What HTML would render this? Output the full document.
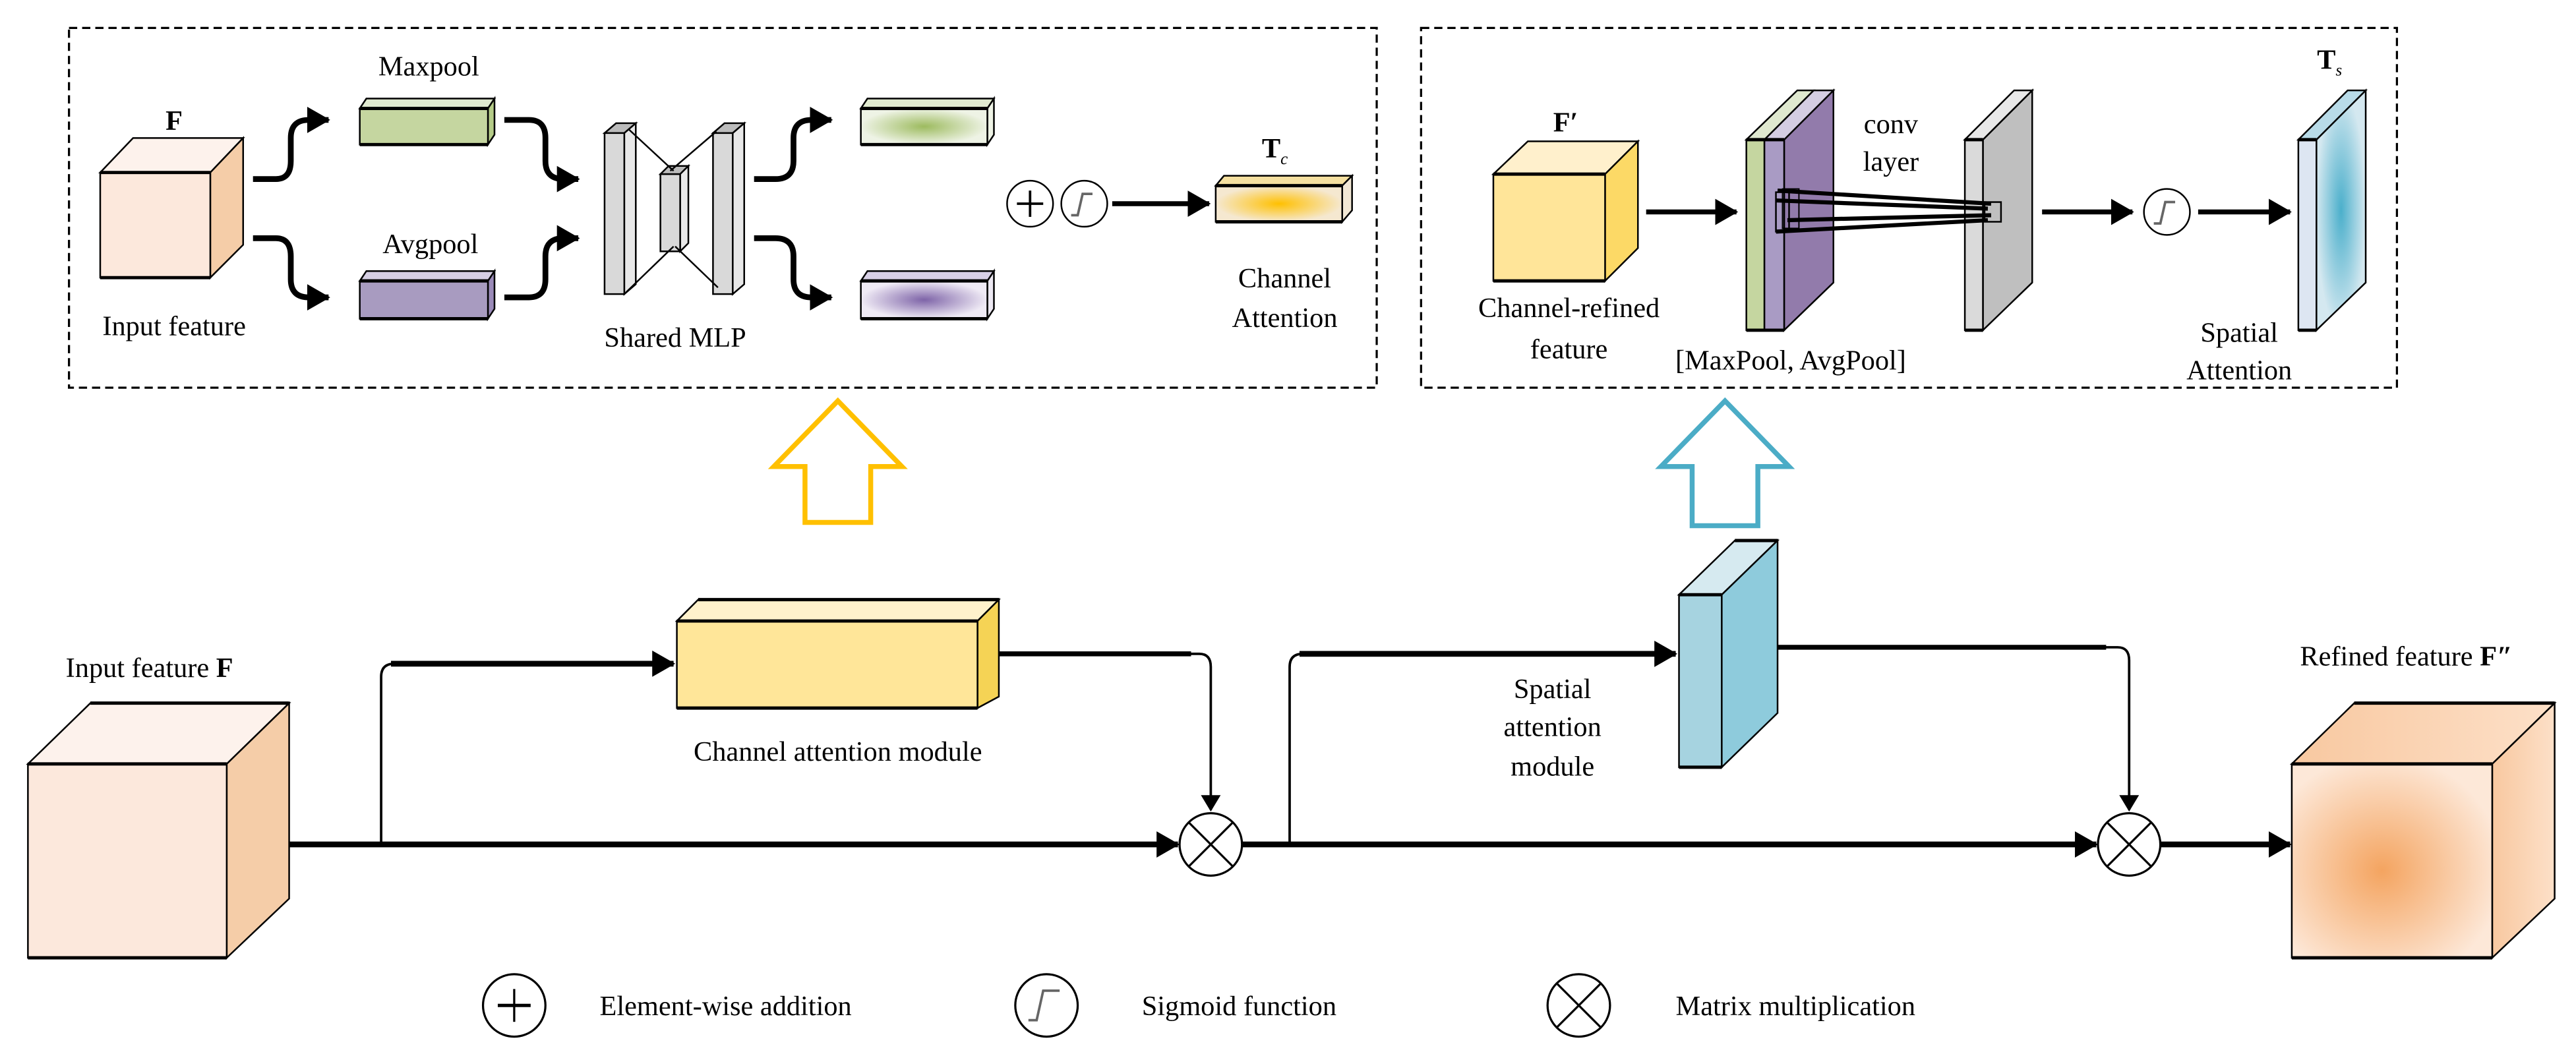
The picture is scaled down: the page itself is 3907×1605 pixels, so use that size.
<!DOCTYPE html>
<html><head><meta charset="utf-8"><style>html,body{margin:0;padding:0;background:#fff}svg{display:block}text{font-family:"Liberation Serif",serif;fill:#000}</style></head><body>
<svg width="3907" height="1605" viewBox="0 0 1568 644" preserveAspectRatio="none" xmlns="http://www.w3.org/2000/svg">
<defs>
<marker id="ah" markerUnits="userSpaceOnUse" markerWidth="14" markerHeight="16" refX="13" refY="8" orient="auto"><path d="M0,0 L14,8 L0,16 z" fill="#000"/></marker>
<marker id="ahs" markerUnits="userSpaceOnUse" markerWidth="10" markerHeight="12" refX="9" refY="6" orient="auto"><path d="M0,0 L10,6 L0,12 z" fill="#000"/></marker>
<radialGradient id="gG"><stop offset="0" stop-color="#9dbb5f"/><stop offset="1" stop-color="#eef3e5"/></radialGradient>
<radialGradient id="gP"><stop offset="0" stop-color="#7e64a8"/><stop offset="1" stop-color="#efeaf5"/></radialGradient>
<radialGradient id="gY"><stop offset="0" stop-color="#ffc000"/><stop offset="1" stop-color="#f5e8d0"/></radialGradient>
<radialGradient id="gB"><stop offset="0" stop-color="#4bafcb"/><stop offset="1" stop-color="#d4e8f0"/></radialGradient>
<radialGradient id="gO" cx="0.45" cy="0.55" r="0.6"><stop offset="0" stop-color="#f4a460"/><stop offset="1" stop-color="#fde8d8"/></radialGradient>
<linearGradient id="gOs" x1="0" x2="1"><stop offset="0" stop-color="#f8c8a0"/><stop offset="1" stop-color="#fde0c8"/></linearGradient>
</defs>

<!-- Dashed boxes -->
<rect x="42" y="17" width="796" height="219" fill="none" stroke="#000" stroke-width="1.3" stroke-dasharray="5,3"/>
<rect x="865" y="17" width="594" height="219" fill="none" stroke="#000" stroke-width="1.3" stroke-dasharray="5,3"/>

<!-- ===== Channel attention detail ===== -->
<text x="106" y="79" font-size="17" font-weight="bold" text-anchor="middle">F</text>
<polygon points="61,105 81,84 148,84 128,105" fill="#fdf2ec" stroke="#000" stroke-width="1"/>
<polygon points="128,105 148,84 148,149 128,169" fill="#f5cda8" stroke="#000" stroke-width="1"/>
<rect x="61" y="105" width="67" height="64" fill="#fce8dc" stroke="#000" stroke-width="1"/>
<line x1="61" y1="105" x2="128" y2="105" stroke="#000" stroke-width="2"/><line x1="61" y1="169" x2="128" y2="169" stroke="#000" stroke-width="2"/>
<text x="106" y="204" font-size="17" text-anchor="middle">Input feature</text>

<text x="261" y="46" font-size="17" text-anchor="middle">Maxpool</text>
<polygon points="219,66 223,60 301,60 297,66" fill="#dfe9cf" stroke="#000"/>
<polygon points="297,66 301,60 301,82 297,88" fill="#b5cc88" stroke="#000"/>
<rect x="219" y="66" width="78" height="22" fill="#c5d6a0" stroke="#000"/>
<line x1="219" y1="66" x2="297" y2="66" stroke="#000" stroke-width="2"/><line x1="219" y1="88" x2="297" y2="88" stroke="#000" stroke-width="2"/>

<text x="262" y="154" font-size="17" text-anchor="middle">Avgpool</text>
<polygon points="219,171 223,165 301,165 297,171" fill="#d6cfe3" stroke="#000"/>
<polygon points="297,171 301,165 301,188 297,194" fill="#9a8ab8" stroke="#000"/>
<rect x="219" y="171" width="78" height="23" fill="#a89bc0" stroke="#000"/>
<line x1="219" y1="171" x2="297" y2="171" stroke="#000" stroke-width="2"/><line x1="219" y1="194" x2="297" y2="194" stroke="#000" stroke-width="2"/>

<!-- curves -->
<g fill="none" stroke="#000" stroke-width="3.5">
<path d="M154,109 H168 Q177,109 177,98 V84 Q177,73 188,73 H200" marker-end="url(#ah)"/>
<path d="M154,145 H168 Q177,145 177,156 V170 Q177,181 188,181 H200" marker-end="url(#ah)"/>
<path d="M307,73 H322 Q332,73 332,84 V98 Q332,109 343,109 H352" marker-end="url(#ah)"/>
<path d="M307,181 H322 Q332,181 332,170 V156 Q332,145 343,145 H352" marker-end="url(#ah)"/>
<path d="M459,109 H472 Q483,109 483,98 V84 Q483,73 494,73 H506" marker-end="url(#ah)"/>
<path d="M459,145 H472 Q483,145 483,156 V170 Q483,181 494,181 H506" marker-end="url(#ah)"/>
</g>

<!-- MLP -->
<g stroke="#000" stroke-width="1">
<polygon points="368,81 375,75 387,75 380,81" fill="#bbb"/><polygon points="380,81 387,75 387,173 380,179" fill="#e8e8e8"/><rect x="368" y="81" width="12" height="98" fill="#d9d9d9"/>
<polygon points="434,81 441,75 453,75 446,81" fill="#bbb"/><polygon points="446,81 453,75 453,173 446,179" fill="#e8e8e8"/><rect x="434" y="81" width="12" height="98" fill="#d9d9d9"/>
<polygon points="402,106 407,101 419,101 414,106" fill="#bbb"/><polygon points="414,106 419,101 419,148 414,153" fill="#e8e8e8"/><rect x="402" y="106" width="12" height="47" fill="#d9d9d9"/>
<line x1="383" y1="79" x2="410" y2="104"/><line x1="436" y1="80" x2="408" y2="104"/>
<line x1="381" y1="178" x2="410" y2="150"/><line x1="437" y1="175" x2="411" y2="150"/>
</g>
<text x="411" y="211" font-size="17" text-anchor="middle">Shared MLP</text>

<polygon points="524,66 528,60 605,60 601,66" fill="#e0eacf" stroke="#000"/>
<polygon points="601,66 605,60 605,82 601,88" fill="#eef3e5" stroke="#000"/>
<rect x="524" y="66" width="77" height="22" fill="url(#gG)" stroke="#000"/>
<line x1="524" y1="66" x2="601" y2="66" stroke="#000" stroke-width="2"/><line x1="524" y1="88" x2="601" y2="88" stroke="#000" stroke-width="2"/>
<polygon points="524,171 528,165 605,165 601,171" fill="#d8d0e6" stroke="#000"/>
<polygon points="601,171 605,165 605,188 601,194" fill="#ece8f2" stroke="#000"/>
<rect x="524" y="171" width="77" height="23" fill="url(#gP)" stroke="#000"/>
<line x1="524" y1="171" x2="601" y2="171" stroke="#000" stroke-width="2"/><line x1="524" y1="194" x2="601" y2="194" stroke="#000" stroke-width="2"/>

<ellipse cx="627" cy="124" rx="14" ry="14" fill="#fff" stroke="#000"/>
<line x1="619" y1="124" x2="635" y2="124" stroke="#000" stroke-width="1.5"/><line x1="627" y1="116" x2="627" y2="132" stroke="#000" stroke-width="1.5"/>
<ellipse cx="660" cy="124" rx="14" ry="14" fill="#fff" stroke="#000"/>
<path d="M652,131 H656 L659,118 H665" fill="none" stroke="#666" stroke-width="1.5"/>
<line x1="677" y1="124" x2="736" y2="124" stroke="#000" stroke-width="3" marker-end="url(#ah)"/>
<text x="776" y="96" font-size="17" font-weight="bold" text-anchor="middle">T<tspan font-size="10" font-style="italic" font-weight="normal" dy="4">c</tspan></text>
<polygon points="740,113 745,107 823,107 817,113" fill="#f5e0a0" stroke="#000"/>
<polygon points="817,113 823,107 823,128 817,135" fill="#f2e8d5" stroke="#000"/>
<rect x="740" y="113" width="77" height="22" fill="url(#gY)" stroke="#000"/>
<line x1="740" y1="113" x2="817" y2="113" stroke="#000" stroke-width="2"/><line x1="740" y1="135" x2="817" y2="135" stroke="#000" stroke-width="2"/>
<text x="782" y="175" font-size="17" text-anchor="middle">Channel</text>
<text x="782" y="199" font-size="17" text-anchor="middle">Attention</text>

<!-- ===== Spatial attention detail ===== -->
<text x="953" y="80" font-size="17" font-weight="bold" text-anchor="middle">F′</text>
<polygon points="909,106 930,86 997,86 977,106" fill="#fff0cc" stroke="#000"/>
<polygon points="977,106 997,86 997,151 977,171" fill="#fcd966" stroke="#000"/>
<rect x="909" y="106" width="68" height="65" fill="#ffe599" stroke="#000"/>
<line x1="909" y1="106" x2="977" y2="106" stroke="#000" stroke-width="2"/><line x1="909" y1="171" x2="977" y2="171" stroke="#000" stroke-width="2"/>
<text x="955" y="193" font-size="17" text-anchor="middle">Channel-refined</text>
<text x="955" y="218" font-size="17" text-anchor="middle">feature</text>
<line x1="1002" y1="129" x2="1057" y2="129" stroke="#000" stroke-width="3" marker-end="url(#ah)"/>

<g stroke="#000" stroke-width="1">
<polygon points="1086,85 1116,55 1116,172 1086,201" fill="#927bab"/>
<polygon points="1063,85 1094,55 1104,55 1074,85" fill="#dfe8cf"/>
<polygon points="1074,85 1104,55 1116,55 1086,85" fill="#d4cde2"/>
<rect x="1063" y="85" width="11" height="116" fill="#c5d6a0"/>
<rect x="1074" y="85" width="12" height="116" fill="#a99bc4"/>
<line x1="1063" y1="85" x2="1086" y2="85" stroke-width="2"/><line x1="1063" y1="201" x2="1086" y2="201" stroke-width="2"/>
<polygon points="1207,85 1237,55 1237,172 1207,201" fill="#bfbfbf"/>
<polygon points="1196,85 1226,55 1237,55 1207,85" fill="#e8e8e8"/>
<rect x="1196" y="85" width="11" height="116" fill="#dadada"/>
<line x1="1196" y1="85" x2="1207" y2="85" stroke-width="2"/><line x1="1196" y1="201" x2="1207" y2="201" stroke-width="2"/>
<polygon points="1410,85 1440,55 1440,172 1410,201" fill="url(#gB)"/>
<polygon points="1399,85 1429,55 1440,55 1410,85" fill="#b8dbe8"/>
<rect x="1399" y="85" width="11" height="116" fill="#dde6f2"/>
<line x1="1399" y1="85" x2="1410" y2="85" stroke-width="2"/><line x1="1399" y1="201" x2="1410" y2="201" stroke-width="2"/>
</g>
<!-- conv lines -->
<g stroke="#000" fill="none">
<rect x="1081" y="117" width="8" height="24" stroke-width="1"/>
<rect x="1085" y="115" width="10" height="24" stroke-width="0.8"/>
<rect x="1208" y="123" width="10" height="12" stroke-width="1"/>
<line x1="1082" y1="116" x2="1212" y2="124" stroke-width="2.5"/>
<line x1="1081" y1="122" x2="1210" y2="127" stroke-width="2.5"/>
<line x1="1088" y1="134" x2="1212" y2="131" stroke-width="2.5"/>
<line x1="1081" y1="141" x2="1210" y2="134" stroke-width="2.5"/>
</g>
<text x="1151" y="81" font-size="17" text-anchor="middle">conv</text>
<text x="1151" y="104" font-size="17" text-anchor="middle">layer</text>
<text x="1090" y="225" font-size="17" text-anchor="middle">[MaxPool, AvgPool]</text>
<line x1="1243" y1="129" x2="1298" y2="129" stroke="#000" stroke-width="3" marker-end="url(#ah)"/>
<ellipse cx="1319" cy="129" rx="14" ry="14" fill="#fff" stroke="#000"/>
<path d="M1311,136 H1315 L1318,123 H1324" fill="none" stroke="#666" stroke-width="1.5"/>
<line x1="1338" y1="129" x2="1394" y2="129" stroke="#000" stroke-width="3" marker-end="url(#ah)"/>
<text x="1418" y="42" font-size="17" font-weight="bold" text-anchor="middle">T<tspan font-size="10" font-style="italic" font-weight="normal" dy="4">s</tspan></text>
<text x="1363" y="208" font-size="17" text-anchor="middle">Spatial</text>
<text x="1363" y="231" font-size="17" text-anchor="middle">Attention</text>

<!-- Up arrows -->
<polygon points="510,244 549,284 530,284 530,318 490,318 490,284 471,284" fill="none" stroke="#ffc000" stroke-width="3"/>
<polygon points="1050,244 1089,284 1070,284 1070,320 1030,320 1030,284 1011,284" fill="none" stroke="#4bacc6" stroke-width="3"/>

<!-- ===== Main bottom flow ===== -->
<text x="40" y="412" font-size="17">Input feature <tspan font-weight="bold">F</tspan></text>
<polygon points="17,465 55,428 176,428 138,465" fill="#fdf2ec" stroke="#000"/>
<polygon points="138,465 176,428 176,547 138,583" fill="#f5cda8" stroke="#000"/>
<rect x="17" y="465" width="121" height="118" fill="#fce8dc" stroke="#000"/>
<line x1="17" y1="465" x2="138" y2="465" stroke="#000" stroke-width="2"/><line x1="17" y1="583" x2="138" y2="583" stroke="#000" stroke-width="2"/><line x1="55" y1="428" x2="176" y2="428" stroke="#000" stroke-width="2"/>

<polygon points="412,378 425,365 608,365 595,378" fill="#fff2cc" stroke="#000"/>
<polygon points="595,378 608,365 608,424 595,431" fill="#f5d355" stroke="#000"/>
<rect x="412" y="378" width="183" height="53" fill="#ffe699" stroke="#000"/>
<line x1="412" y1="378" x2="595" y2="378" stroke="#000" stroke-width="2"/><line x1="412" y1="431" x2="595" y2="431" stroke="#000" stroke-width="2"/><line x1="425" y1="365" x2="608" y2="365" stroke="#000" stroke-width="2"/>
<text x="510" y="463" font-size="17" text-anchor="middle">Channel  attention module</text>

<polygon points="1022,362 1056,329 1082,329 1048,362" fill="#d6eaf0" stroke="#000"/>
<polygon points="1048,362 1082,329 1082,434 1048,467" fill="#8ecbdc" stroke="#000"/>
<rect x="1022" y="362" width="26" height="105" fill="#a6d3e0" stroke="#000"/>
<line x1="1022" y1="362" x2="1048" y2="362" stroke="#000" stroke-width="2"/><line x1="1022" y1="467" x2="1048" y2="467" stroke="#000" stroke-width="2"/><line x1="1056" y1="329" x2="1082" y2="329" stroke="#000" stroke-width="2"/>
<text x="945" y="425" font-size="17" text-anchor="middle">Spatial</text>
<text x="945" y="448" font-size="17" text-anchor="middle">attention</text>
<text x="945" y="472" font-size="17" text-anchor="middle">module</text>

<text x="1400" y="405" font-size="17">Refined feature <tspan font-weight="bold">F″</tspan></text>
<polygon points="1395,465 1433,428 1555,428 1517,465" fill="url(#gOs)" stroke="#000"/>
<polygon points="1517,465 1555,428 1555,547 1517,583" fill="url(#gOs)" stroke="#000"/>
<rect x="1395" y="465" width="122" height="118" fill="url(#gO)" stroke="#000"/>
<line x1="1395" y1="465" x2="1517" y2="465" stroke="#000" stroke-width="2"/><line x1="1395" y1="583" x2="1517" y2="583" stroke="#000" stroke-width="2"/><line x1="1433" y1="428" x2="1555" y2="428" stroke="#000" stroke-width="2"/>

<g fill="none" stroke="#000">
<line x1="176" y1="514" x2="717" y2="514" stroke-width="3.5" marker-end="url(#ah)"/>
<path d="M232,514 V412 Q232,404 240,404 H410" stroke-width="1.5"/>
<line x1="238" y1="404" x2="410" y2="404" stroke-width="3.5" marker-end="url(#ah)"/>
<path d="M608,398 H730 Q737,398 737,406 V493" stroke-width="1.5" marker-end="url(#ahs)"/>
<line x1="608" y1="398" x2="725" y2="398" stroke-width="3"/>
<line x1="756" y1="514" x2="1276" y2="514" stroke-width="3.5" marker-end="url(#ah)"/>
<path d="M785,514 V406 Q785,398 793,398 H1020" stroke-width="1.5"/>
<line x1="791" y1="398" x2="1020" y2="398" stroke-width="3.5" marker-end="url(#ah)"/>
<path d="M1082,394 H1289 Q1296,394 1296,402 V493" stroke-width="1.5" marker-end="url(#ahs)"/>
<line x1="1082" y1="394" x2="1282" y2="394" stroke-width="3"/>
<line x1="1315" y1="514" x2="1394" y2="514" stroke-width="3.5" marker-end="url(#ah)"/>
</g>
<g stroke="#000" stroke-width="1.3" fill="#fff">
<circle cx="737" cy="514" r="19"/><line x1="724" y1="501" x2="750" y2="527"/><line x1="750" y1="501" x2="724" y2="527"/>
<circle cx="1296" cy="514" r="19"/><line x1="1283" y1="501" x2="1309" y2="527"/><line x1="1309" y1="501" x2="1283" y2="527"/>
</g>

<!-- Legend -->
<g stroke="#000" stroke-width="1.3" fill="#fff">
<circle cx="313" cy="612" r="19"/><line x1="303" y1="612" x2="323" y2="612" stroke-width="2"/><line x1="313" y1="602" x2="313" y2="622"/>
<circle cx="637" cy="612" r="19"/>
<circle cx="961" cy="612" r="19"/><line x1="948" y1="599" x2="974" y2="625"/><line x1="974" y1="599" x2="948" y2="625"/>
</g>
<path d="M626,621 H631 L635,603 H645" fill="none" stroke="#666" stroke-width="1.5"/>
<text x="365" y="618" font-size="17">Element-wise addition</text>
<text x="695" y="618" font-size="17">Sigmoid function</text>
<text x="1020" y="618" font-size="17">Matrix multiplication</text>
</svg>
</body></html>
